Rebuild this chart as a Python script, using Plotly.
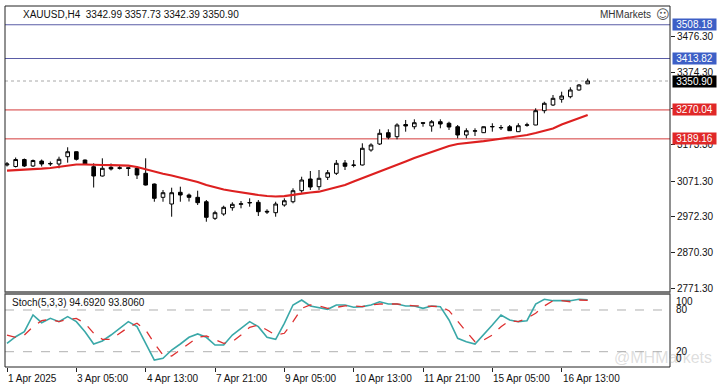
import plotly.graph_objects as go

# ---------------- data ----------------
tick_idx = [0, 8, 16, 24, 32, 40, 48, 56, 64]
tick_labels = ["1 Apr 2025", "3 Apr 05:00", "4 Apr 13:00", "7 Apr 21:00", "9 Apr 05:00",
               "10 Apr 13:00", "11 Apr 21:00", "15 Apr 05:00", "16 Apr 13:00"]

opens = [3116.1, 3111.9, 3131.4, 3113.3, 3127.2, 3118.9, 3118.9, 3139.3, 3153.2, 3130.0,
         3111.3, 3085.3, 3109.6, 3108.2, 3108.2, 3106.8, 3092.9, 3062.9, 3025.7, 3007.0,
         3039.7, 3032.2, 3025.7, 3013.4, 2967.0, 2979.1, 2996.7, 3006.2, 3009.8, 3011.8,
         2986.6, 2982.7, 3004.2, 3013.4, 3044.2, 3076.9, 3055.4, 3081.7, 3092.9, 3121.7,
         3116.1, 3116.1, 3158.0, 3174.8, 3206.4, 3195.2, 3229.3, 3223.1, 3234.3, 3225.1,
         3237.1, 3232.7, 3223.1, 3199.9, 3210.6, 3206.4, 3222.6, 3219.8, 3223.1, 3209.2,
         3227.1, 3227.9, 3267.9, 3283.8, 3299.8, 3307.0, 3325.8, 3342.99]
highs = [3124.4, 3137.0, 3134.2, 3131.4, 3131.4, 3125.8, 3139.3, 3165.6, 3153.8, 3131.4,
         3120.8, 3134.8, 3120.3, 3113.3, 3109.1, 3111.9, 3134.8, 3064.3, 3046.2, 3052.6,
         3055.4, 3036.4, 3044.2, 3018.2, 2988.3, 3002.3, 3011.8, 3015.4, 3022.9, 3018.2,
         2992.2, 3013.4, 3022.9, 3050.9, 3083.3, 3099.3, 3102.1, 3102.1, 3130.0, 3130.0,
         3130.0, 3176.7, 3176.7, 3215.9, 3215.9, 3232.7, 3241.9, 3243.8, 3234.9, 3241.9,
         3243.8, 3237.1, 3227.9, 3218.7, 3218.7, 3223.7, 3232.7, 3227.9, 3227.9, 3232.7,
         3234.3, 3274.6, 3293.0, 3311.8, 3321.0, 3333.3, 3342.5, 3357.73]
lows = [3111.9, 3109.1, 3110.5, 3110.5, 3111.9, 3113.3, 3106.8, 3122.5, 3128.6, 3116.1,
        3053.1, 3083.9, 3100.7, 3103.5, 3085.3, 3076.9, 3058.7, 3013.4, 3013.4, 2971.5,
        3013.4, 3014.0, 3004.2, 2957.5, 2962.3, 2974.3, 2988.3, 2995.0, 2999.5, 2973.5,
        2979.1, 2971.5, 2999.5, 3009.0, 3038.6, 3046.2, 3046.2, 3074.1, 3088.1, 3102.1,
        3109.6, 3114.7, 3153.2, 3172.0, 3187.9, 3187.9, 3209.2, 3215.9, 3223.1, 3209.2,
        3218.7, 3213.9, 3190.7, 3190.7, 3197.1, 3205.5, 3209.2, 3213.9, 3211.7, 3208.6,
        3223.1, 3227.3, 3260.6, 3281.0, 3290.3, 3302.5, 3323.8, 3342.39]
closes = [3118.9, 3131.4, 3113.3, 3128.6, 3118.9, 3120.3, 3132.0, 3153.2, 3132.0, 3118.9,
          3085.3, 3106.8, 3104.9, 3107.1, 3106.8, 3088.1, 3060.1, 3022.9, 3038.6, 3038.6,
          3032.2, 3025.7, 3010.7, 2969.8, 2982.7, 2997.8, 3006.2, 3007.6, 3011.2, 2985.5,
          2984.9, 3007.0, 3016.2, 3044.2, 3074.1, 3054.5, 3078.9, 3094.5, 3120.8, 3112.4,
          3115.2, 3162.8, 3172.0, 3204.7, 3193.5, 3227.9, 3225.1, 3234.3, 3232.9, 3237.1,
          3230.7, 3222.3, 3199.9, 3212.0, 3211.7, 3223.1, 3223.7, 3220.9, 3212.0, 3225.9,
          3228.2, 3267.9, 3288.6, 3302.5, 3309.0, 3325.8, 3339.7, 3350.90]
ma = [3100.1, 3101.2, 3102.6, 3104.0, 3105.7, 3107.7, 3110.5, 3113.3, 3117.5, 3117.5,
      3116.1, 3116.1, 3115.5, 3114.9, 3114.1, 3110.5, 3103.5, 3097.9, 3091.7, 3086.7,
      3081.1, 3075.0, 3068.5, 3060.1, 3053.1, 3047.6, 3043.4, 3039.2, 3035.0, 3032.2,
      3029.4, 3028.0, 3029.0, 3031.5, 3035.8, 3039.2, 3041.4, 3047.6, 3053.1, 3060.1,
      3069.9, 3078.9, 3089.5, 3097.3, 3106.8, 3116.1, 3125.8, 3135.6, 3144.0, 3152.4,
      3162.8, 3169.2, 3174.8, 3177.0, 3179.0, 3182.6, 3186.0, 3189.3, 3192.9, 3196.6,
      3199.9, 3205.5, 3211.1, 3218.1, 3229.3, 3237.7, 3247.5, 3255.9]
stoch_k = [32, 41.6, 48.8, 72.8, 61.7, 68, 63.2, 70.4, 63.2, 48.8,
           31.1, 35.4, 44, 53.7, 63.2, 56, 32, 8, 10.5, 22.4,
           31.1, 40.7, 45.5, 40.7, 29.6, 29.6, 44, 53.7, 63.2, 56,
           40.7, 37.8, 60.9, 87.2, 94.4, 85.8, 83.9, 81, 87.2, 87.2,
           83.9, 84.8, 87.2, 91.9, 88.6, 88.6, 85.8, 85.8, 82.4, 85.8,
           84.8, 65.6, 39.3, 34.4, 31.1, 44, 58.4, 72.8, 65.6, 63.2,
           64.6, 88.6, 95.4, 93.4, 93.4, 93.4, 95.4, 94.692]
stoch_d = [44, 40.7, 44, 56, 64.6, 66.6, 63.2, 66.6, 68, 60.9,
           46.5, 37.8, 37.8, 46.5, 55.1, 60.9, 51.2, 32, 15.3, 13.8,
           22.4, 32, 40.7, 42.6, 36.8, 32, 34.4, 44, 55.1, 58.4,
           51.2, 44, 46.5, 63.2, 82.4, 87.2, 85.8, 82.4, 83.9, 85.8,
           85.8, 84.8, 87.2, 88.6, 88.6, 88.6, 87.2, 85.8, 85.8, 85.8,
           84.8, 79, 63.2, 48.8, 34.4, 36.8, 44, 56, 64.6, 63.2,
           68, 75.3, 85.8, 93.4, 93.4, 91.9, 94.4, 93.806]

price_ticks = [3476.30, 3374.30, 3275.30, 3173.30, 3071.30, 2972.30, 2870.30, 2771.30]
blue_levels = [3508.18, 3413.82]
red_levels = [3270.04, 3189.16]
bid = 3350.90
stoch_levels = [80, 20]
header = "XAUUSD,H4  3342.99 3357.73 3342.39 3350.90"
stoch_header = "Stoch(5,3,3) 94.6920 93.8060"

# ---------------- layout helpers ----------------
W, H = 721, 392
L, R, T, B = 5, 51, 6, 25
PW, PH = W - L - R, H - T - B
FONT = "Liberation Sans"


def px(xp):
    return (xp - L) / PW


def py(yp):
    return (H - B - yp) / PH


main_dom = [py(292), 1.0]
stoch_dom = [0.0, py(294)]

x = list(range(len(opens)))

fig = go.Figure()
fig.add_trace(go.Candlestick(
    x=x, open=opens, high=highs, low=lows, close=closes,
    increasing=dict(line=dict(color="black", width=1), fillcolor="white"),
    decreasing=dict(line=dict(color="black", width=1), fillcolor="black"),
    whiskerwidth=0, xaxis="x", yaxis="y", hoverinfo="skip"))
fig.add_trace(go.Scatter(x=x, y=ma, mode="lines", line=dict(color="#dd2020", width=2.2),
                         xaxis="x", yaxis="y", hoverinfo="skip"))
fig.add_trace(go.Scatter(x=x, y=stoch_k, mode="lines", line=dict(color="#3aa8a8", width=1.6),
                         xaxis="x", yaxis="y2", hoverinfo="skip"))
fig.add_trace(go.Scatter(x=x, y=stoch_d, mode="lines", line=dict(color="#dd3030", width=1.3, dash="dash"),
                         xaxis="x", yaxis="y2", hoverinfo="skip"))

shapes = []
for lv in blue_levels:
    shapes.append(dict(type="line", xref="paper", x0=0, x1=1, yref="y", y0=lv, y1=lv,
                       line=dict(color="#5a5ca6", width=1), layer="below"))
for lv in red_levels:
    shapes.append(dict(type="line", xref="paper", x0=0, x1=1, yref="y", y0=lv, y1=lv,
                       line=dict(color="#d43a3a", width=1), layer="below"))
shapes.append(dict(type="line", xref="paper", x0=0, x1=1, yref="y", y0=bid, y1=bid,
                   line=dict(color="#a8a8a8", width=1, dash="dot"), layer="below"))
for lv in stoch_levels:
    shapes.append(dict(type="line", xref="paper", x0=0, x1=1, yref="y2", y0=lv, y1=lv,
                       line=dict(color="#b0b0b0", width=1, dash="dash"), layer="below"))
# panel frames and separator
shapes.append(dict(type="rect", xref="paper", yref="paper", x0=0, x1=1, y0=main_dom[0], y1=1,
                   line=dict(color="#222", width=1)))
shapes.append(dict(type="rect", xref="paper", yref="paper", x0=0, x1=1, y0=0, y1=stoch_dom[1],
                   line=dict(color="#222", width=1)))
shapes.append(dict(type="rect", xref="paper", yref="paper", x0=0, x1=1, y0=stoch_dom[1], y1=main_dom[0],
                   line=dict(color="#666", width=1), fillcolor="#8a8a8a"))

ann = []
ann.append(dict(text=header, xref="paper", yref="paper", x=px(21), y=py(14), xanchor="left",
                yanchor="middle", showarrow=False, font=dict(family=FONT, size=10, color="#111")))
ann.append(dict(text=stoch_header, xref="paper", yref="paper", x=px(10), y=py(302), xanchor="left",
                yanchor="middle", showarrow=False, font=dict(family=FONT, size=10, color="#111")))
ann.append(dict(text="MHMarkets", xref="paper", yref="paper", x=px(653), y=py(15), xanchor="right",
                yanchor="middle", showarrow=False, font=dict(family=FONT, size=10, color="#333")))
ann.append(dict(text="☺", xref="paper", yref="paper", x=px(654), y=py(15), xanchor="left",
                yanchor="middle", showarrow=False, font=dict(family="DejaVu Sans", size=13, color="#555")))
ann.append(dict(text="@MHMarkets", xref="paper", yref="paper", x=px(663), y=py(357), xanchor="center",
                yanchor="middle", showarrow=False, font=dict(family=FONT, size=16, color="rgba(170,170,170,0.4)")))
for i, lab in zip(tick_idx, tick_labels):
    ann.append(dict(text=lab, xref="x", yref="paper", x=i, y=py(378), xanchor="left", xshift=-1,
                    yanchor="middle", showarrow=False, font=dict(family=FONT, size=10, color="#111")))
# stochastic scale labels
for txt, yp in [("100", 301.5), ("80", 309), ("20", 351.5), ("0", 358.5)]:
    ann.append(dict(text=txt, xref="paper", yref="paper", x=px(674), y=py(yp), xanchor="left",
                    yanchor="middle", showarrow=False, font=dict(family=FONT, size=10, color="#111")))
# price label boxes
boxes = [(blue_levels[0], "#3d5fc6"), (blue_levels[1], "#3d5fc6"), (bid, "#000000"),
         (red_levels[0], "#e02828"), (red_levels[1], "#e02828")]
for lv, col in boxes:
    ann.append(dict(text="%.2f" % lv, xref="paper", yref="y", x=1, y=lv, xanchor="left", xshift=2,
                    yanchor="middle", showarrow=False, bgcolor=col, borderpad=0, width=43, height=11,
                    align="center", font=dict(family=FONT, size=10, color="white")))

fig.update_layout(
    width=W, height=H, margin=dict(l=L, r=R, t=T, b=B),
    paper_bgcolor="white", plot_bgcolor="white", showlegend=False, hovermode=False,
    boxgap=0.4,
    shapes=shapes, annotations=ann,
    xaxis=dict(domain=[0, 1], anchor="y2", range=[-0.231, 76.5], tickvals=tick_idx,
               showticklabels=False, ticks="outside", ticklen=4, tickcolor="#222",
               showgrid=False, zeroline=False, showline=False, rangeslider=dict(visible=False),
               fixedrange=True),
    yaxis=dict(domain=main_dom, anchor="x", side="right", range=[2761.0, 3560.6],
               tickvals=price_ticks, ticktext=["%.2f" % v for v in price_ticks],
               ticks="outside", ticklen=4, tickcolor="#222", showgrid=False, zeroline=False,
               tickfont=dict(family=FONT, size=10, color="#111"), fixedrange=True),
    yaxis2=dict(domain=stoch_dom, anchor="x", side="right", range=[-2.0, 103.0],
                showticklabels=False, showgrid=False, zeroline=False, ticks="", fixedrange=True),
)

fig.write_html("out.html", config={"displayModeBar": False})

# remove the default page margin so the figure sits at the window's top-left corner
with open("out.html", "r", encoding="utf-8") as f:
    html = f.read()
html = html.replace("<head>", "<head><style>html,body{margin:0;padding:0;overflow:hidden;}</style>", 1)
with open("out.html", "w", encoding="utf-8") as f:
    f.write(html)
